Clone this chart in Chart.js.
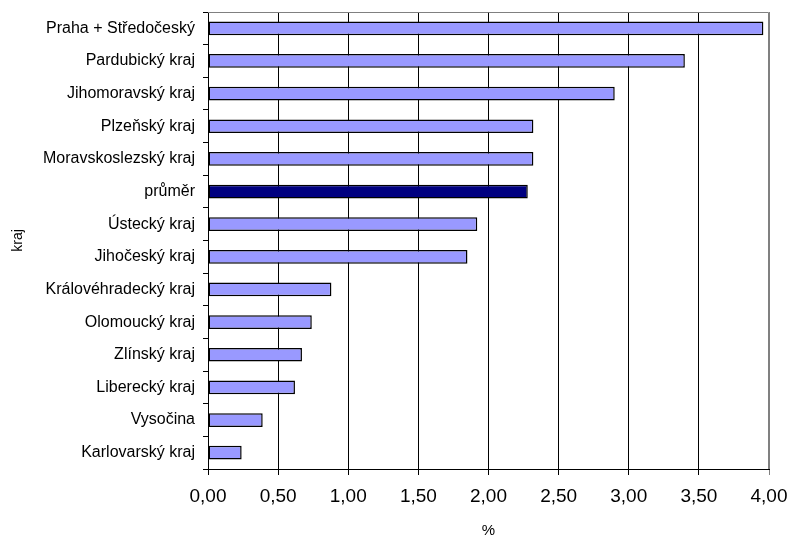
<!DOCTYPE html>
<html>
<head>
<meta charset="utf-8">
<script src="https://cdn.jsdelivr.net/npm/chart.js@4.4.1/dist/chart.umd.min.js"></script>
<style>
  html, body { margin: 0; padding: 0; background: #fff; }
  #wrap { width: 795px; height: 538px; }
</style>
</head>
<body>
<div id="wrap"><canvas id="c" width="795" height="538"></canvas></div>
<script>
// Regions (top to bottom) and their share in %
const regions = [
  "Praha + Středočeský",
  "Pardubický kraj",
  "Jihomoravský kraj",
  "Plzeňský kraj",
  "Moravskoslezský kraj",
  "průměr",
  "Ústecký kraj",
  "Jihočeský kraj",
  "Královéhradecký kraj",
  "Olomoucký kraj",
  "Zlínský kraj",
  "Liberecký kraj",
  "Vysočina",
  "Karlovarský kraj"
];
const shares = [3.96, 3.40, 2.90, 2.32, 2.32, 2.28, 1.92, 1.85, 0.88, 0.74, 0.67, 0.62, 0.39, 0.24];
const averageLabel = "průměr";
const xTicks = [0, 0.5, 1, 1.5, 2, 2.5, 3, 3.5, 4];

const FONT = "'Liberation Sans', Arial, sans-serif";

// Grey frame on the top and right edges of the plot area
const frame = {
  id: 'frame',
  afterDraw(chart) {
    const a = chart.chartArea, ctx = chart.ctx;
    ctx.save();
    ctx.strokeStyle = '#808080';
    ctx.lineWidth = 1;
    ctx.beginPath();
    ctx.moveTo(a.left, a.top + 0.5);
    ctx.lineTo(a.right - 0.5, a.top + 0.5);
    ctx.lineTo(a.right - 0.5, a.bottom);
    ctx.stroke();
    ctx.restore();
  }
};

// Let the layout padding alone decide the plot margins
function noLabelPadding(scale) {
  scale.paddingTop = 0;
  scale.paddingBottom = 0;
  scale.paddingLeft = 0;
  scale.paddingRight = 0;
}

new Chart(document.getElementById('c'), {
  type: 'bar',
  data: {
    labels: regions,
    datasets: [{
      data: shares,
      backgroundColor: regions.map(r => r === averageLabel ? '#000080' : '#9999FF'),
      borderColor: '#000000',
      borderWidth: 1.5,
      borderSkipped: false,
      categoryPercentage: 1.0,
      barPercentage: 0.42
    }]
  },
  options: {
    indexAxis: 'y',
    responsive: false,
    animation: false,
    layout: { padding: { top: 12, right: 26, left: 0, bottom: 0 } },
    plugins: {
      legend: { display: false },
      tooltip: { enabled: false }
    },
    scales: {
      x: {
        min: 0,
        max: 4,
        afterBuildTicks(scale) { scale.ticks = xTicks.map(v => ({ value: v })); },
        afterFit(scale) { scale.height = 69; noLabelPadding(scale); },
        grid: {
          color: ctx => (ctx.tick && ctx.tick.value === 4) ? '#808080' : '#000000',
          lineWidth: 1,
          tickLength: 6,
          drawOnChartArea: true
        },
        border: { display: true, color: '#000000', width: 1 },
        ticks: {
          color: '#000',
          font: { family: FONT, size: 19 },
          padding: 10,
          maxRotation: 0,
          callback: v => Number(v).toFixed(2).replace('.', ',')
        },
        title: {
          display: true,
          text: '%',
          color: '#000',
          font: { family: FONT, size: 15 },
          padding: { top: 0, bottom: -2 }
        }
      },
      y: {
        afterFit(scale) { scale.width = 208; noLabelPadding(scale); },
        grid: {
          drawOnChartArea: false,
          color: '#000000',
          tickLength: 5,
          offset: true
        },
        border: { display: true, color: '#000000', width: 1 },
        ticks: {
          color: '#000',
          font: { family: FONT, size: 16 },
          padding: 8,
          autoSkip: false
        },
        title: {
          display: true,
          text: 'kraj',
          color: '#000',
          font: { family: FONT, size: 14 },
          padding: { top: 10, bottom: 0 }
        }
      }
    }
  },
  plugins: [frame]
});
</script>
</body>
</html>
